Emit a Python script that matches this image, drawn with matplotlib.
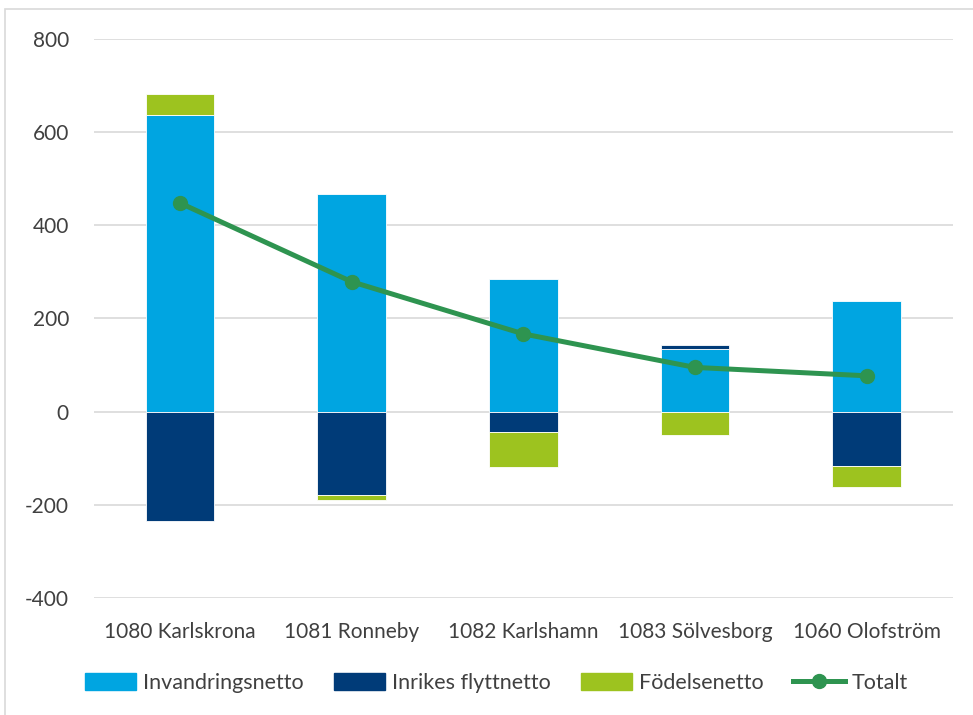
import numpy as np
import matplotlib
matplotlib.use("Agg")
import matplotlib.pyplot as plt
from matplotlib.patches import Rectangle
from matplotlib.lines import Line2D

plt.rcParams['font.family'] = ['Lato', 'DejaVu Sans']
plt.rcParams['axes.unicode_minus'] = False

kommuner = ["1080 Karlskrona", "1081 Ronneby", "1082 Karlshamn", "1083 Sölvesborg", "1060 Olofström"]
invandringsnetto = [637, 468, 285, 135, 238]
inrikes_flyttnetto = [-234, -178, -43, 9, -116]
fodelsenetto = [45, -11, -75, -49, -45]
totalt = [448, 279, 167, 95, 77]

series = [
    ("Invandringsnetto", invandringsnetto, "#00A5E1"),
    ("Inrikes flyttnetto", inrikes_flyttnetto, "#003B78"),
    ("Födelsenetto", fodelsenetto, "#9DC31F"),
]
line_color = "#2E9450"

fig = plt.figure(figsize=(9.73, 7.15), dpi=100)
ax = fig.add_axes([0.0966, 0.1636, 0.8824, 0.7819])

x = np.arange(len(kommuner))
pos_base = np.zeros(len(kommuner))
neg_base = np.zeros(len(kommuner))
for name, vals, col in series:
    vals = np.array(vals, dtype=float)
    bottoms = np.where(vals >= 0, pos_base, neg_base)
    ax.bar(x, vals, width=0.4, bottom=bottoms, color=col, edgecolor="white",
           linewidth=0.6, zorder=2)
    pos_base = pos_base + np.where(vals >= 0, vals, 0)
    neg_base = neg_base + np.where(vals < 0, vals, 0)

ax.plot(x, totalt, color=line_color, linewidth=3.6, marker="o", markersize=10,
        zorder=3, solid_capstyle="round")

ax.set_xlim(-0.5, len(kommuner) - 0.5)
ax.set_ylim(-400, 800)
ax.set_yticks(np.arange(-400, 801, 200))
ax.yaxis.grid(True, color="#D9D9D9", linewidth=1.2, zorder=0)
ax.set_axisbelow(True)
for s in ax.spines.values():
    s.set_visible(False)
ax.tick_params(axis="both", length=0, labelsize=15, colors="#404040")
ax.tick_params(axis="y", pad=18)
ax.tick_params(axis="x", pad=17)
ax.set_xticks(x)
ax.set_xticklabels(kommuner)

handles = [Rectangle((0, 0), 1, 1, color=c) for _, _, c in series]
handles.append(Line2D([], [], color=line_color, linewidth=3.6, marker="o", markersize=10))
labels = [n for n, _, _ in series] + ["Totalt"]
fig.legend(handles, labels, loc="center", bbox_to_anchor=(0.51, 0.045), ncol=4,
           frameon=False, fontsize=15.5, handlelength=2.4, handleheight=0.8,
           columnspacing=1.4, handletextpad=0.3, labelcolor="#404040")

fig.patches.append(Rectangle((5 / 973, -0.1), 1.2, (715 - 9) / 715 + 0.1,
                             transform=fig.transFigure, fill=False,
                             edgecolor="#D9D9D9", linewidth=1.2))

fig.savefig("out.png", dpi=100)
